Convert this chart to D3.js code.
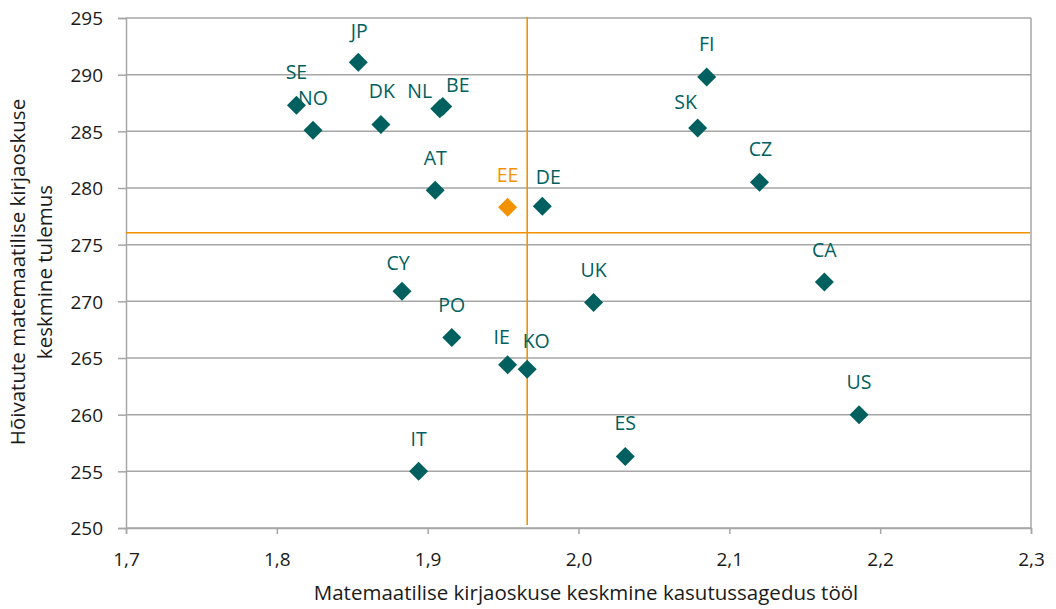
<!DOCTYPE html>
<html>
<head>
<meta charset="utf-8">
<script src="https://cdn.jsdelivr.net/npm/d3@7"></script>
<style>
  html, body { margin: 0; padding: 0; background: #fff; }
  svg { display: block; font-family: "Open Sans", "Noto Sans", sans-serif; }
</style>
</head>
<body>
<svg id="chart" width="1056" height="609"></svg>
<script>
// ---- data ----
const countries = ["JP","SE","NO","DK","NL","BE","AT","EE","DE","FI","SK","CZ","CA","CY","UK","PO","IE","KO","IT","ES","US"];
const usage = [1.854,1.813,1.824,1.869,1.908,1.910,1.905,1.953,1.976,2.085,2.079,2.120,2.163,1.883,2.010,1.916,1.953,1.966,1.894,2.031,2.186];
const score = [291.1,287.3,285.1,285.6,287.0,287.2,279.8,278.3,278.4,289.8,285.3,280.5,271.7,270.9,269.9,266.8,264.4,264.0,255.0,256.3,260.0];
const highlight = ["EE"];
const avgUsage = 1.966;
const avgScore = 276.05;
const xTicks = [1.7,1.8,1.9,2.0,2.1,2.2,2.3];
const yTicks = [250,255,260,265,270,275,280,285,290,295];
const xTitle = "Matemaatilise kirjaoskuse keskmine kasutussagedus tööl";
const yTitleLines = ["Hõivatute matemaatilise kirjaoskuse", "keskmine tulemus"];

// ---- layout / style ----
const teal = "#00605F", orange = "#F39200", grid = "#A6A6A6";
const labelNudge = { NL: [-20, 15], BE: [15, 11], DE: [6, 3], SK: [-12, 7], CY: [-4, 4], IE: [-6, 5], KO: [9, 4], SE: [0, -1], DK: [1, -1], CZ: [1, -1], ES: [0, -1], JP: [1, 1] };
const tickFont = 19, labelFont = 19.5, titleFont = 20.5;

const svg = d3.select("#chart");
const x = d3.scaleLinear().domain([1.7, 2.3]).range([126, 1031]);
const y = d3.scaleLinear().domain([250, 295]).range([528, 18]);
const fmt = d => d.toFixed(1).replace(".", ",");

// horizontal gridlines
svg.append("g").selectAll("line").data(yTicks).join("line")
  .attr("x1", x(1.7)).attr("x2", x(2.3))
  .attr("y1", d => y(d)).attr("y2", d => y(d))
  .attr("stroke", grid).attr("stroke-width", 1.5);

// right border
svg.append("line").attr("x1", x(2.3)).attr("x2", x(2.3)).attr("y1", y(295)).attr("y2", y(250))
  .attr("stroke", grid).attr("stroke-width", 1.5);

// y axis
const yAxis = svg.append("g").attr("transform", `translate(${x(1.7)},0)`)
  .call(d3.axisLeft(y).tickValues(yTicks).tickSize(8).tickPadding(15).tickFormat(d => d));
yAxis.select(".domain").attr("stroke", grid).attr("stroke-width", 1.5);
yAxis.selectAll(".tick line").attr("stroke", grid).attr("stroke-width", 1.5);
yAxis.selectAll(".tick text").attr("font-size", tickFont).attr("fill", "#1a1a1a")
  .attr("font-family", "Open Sans").attr("x", -23).attr("dy", "0.36em");

// x axis
const xAxis = svg.append("g").attr("transform", `translate(0,${y(250)})`)
  .call(d3.axisBottom(x).tickValues(xTicks).tickSize(6).tickPadding(16).tickFormat(fmt));
xAxis.select(".domain").attr("stroke", grid).attr("stroke-width", 1.5);
xAxis.selectAll(".tick line").attr("stroke", grid).attr("stroke-width", 1.5);
xAxis.selectAll(".tick text").attr("font-size", tickFont).attr("fill", "#1a1a1a")
  .attr("font-family", "Open Sans").attr("y", 31).attr("dy", "0.36em");

// average lines
svg.append("line").attr("x1", x(1.7)).attr("x2", x(2.3) - 1)
  .attr("y1", y(avgScore)).attr("y2", y(avgScore))
  .attr("stroke", orange).attr("stroke-width", 1.6);
svg.append("line").attr("x1", x(avgUsage)).attr("x2", x(avgUsage))
  .attr("y1", y(295) - 1).attr("y2", y(250) - 3)
  .attr("stroke", orange).attr("stroke-width", 1.6);

// points
const pts = countries.map((c, i) => ({ c, u: usage[i], s: score[i] }));
const half = 9.5;
svg.append("g").selectAll("path").data(pts).join("path")
  .attr("d", d => {
    const cx = x(d.u), cy = y(d.s);
    return `M${cx},${cy - half}L${cx + half},${cy}L${cx},${cy + half}L${cx - half},${cy}Z`;
  })
  .attr("fill", d => highlight.includes(d.c) ? orange : teal);

// labels
svg.append("g").selectAll("text").data(pts).join("text")
  .attr("x", d => x(d.u) + (labelNudge[d.c] ? labelNudge[d.c][0] : 0))
  .attr("y", d => y(d.s) - 33 + (labelNudge[d.c] ? labelNudge[d.c][1] : 0))
  .attr("text-anchor", "middle").attr("dominant-baseline", "central")
  .attr("font-size", labelFont)
  .attr("fill", d => highlight.includes(d.c) ? orange : teal)
  .text(d => d.c);

// axis titles
svg.append("text").attr("x", 586).attr("y", 600).attr("text-anchor", "middle")
  .attr("font-size", titleFont).attr("fill", "#1a1a1a").text(xTitle);
const yt = svg.append("text").attr("transform", "translate(0,272) rotate(-90)")
  .attr("text-anchor", "middle").attr("font-size", titleFont).attr("fill", "#1a1a1a");
yt.selectAll("tspan").data(yTitleLines).join("tspan")
  .attr("x", 0).attr("y", (d, i) => 25 + i * 27).text(d => d);
</script>
</body>
</html>
